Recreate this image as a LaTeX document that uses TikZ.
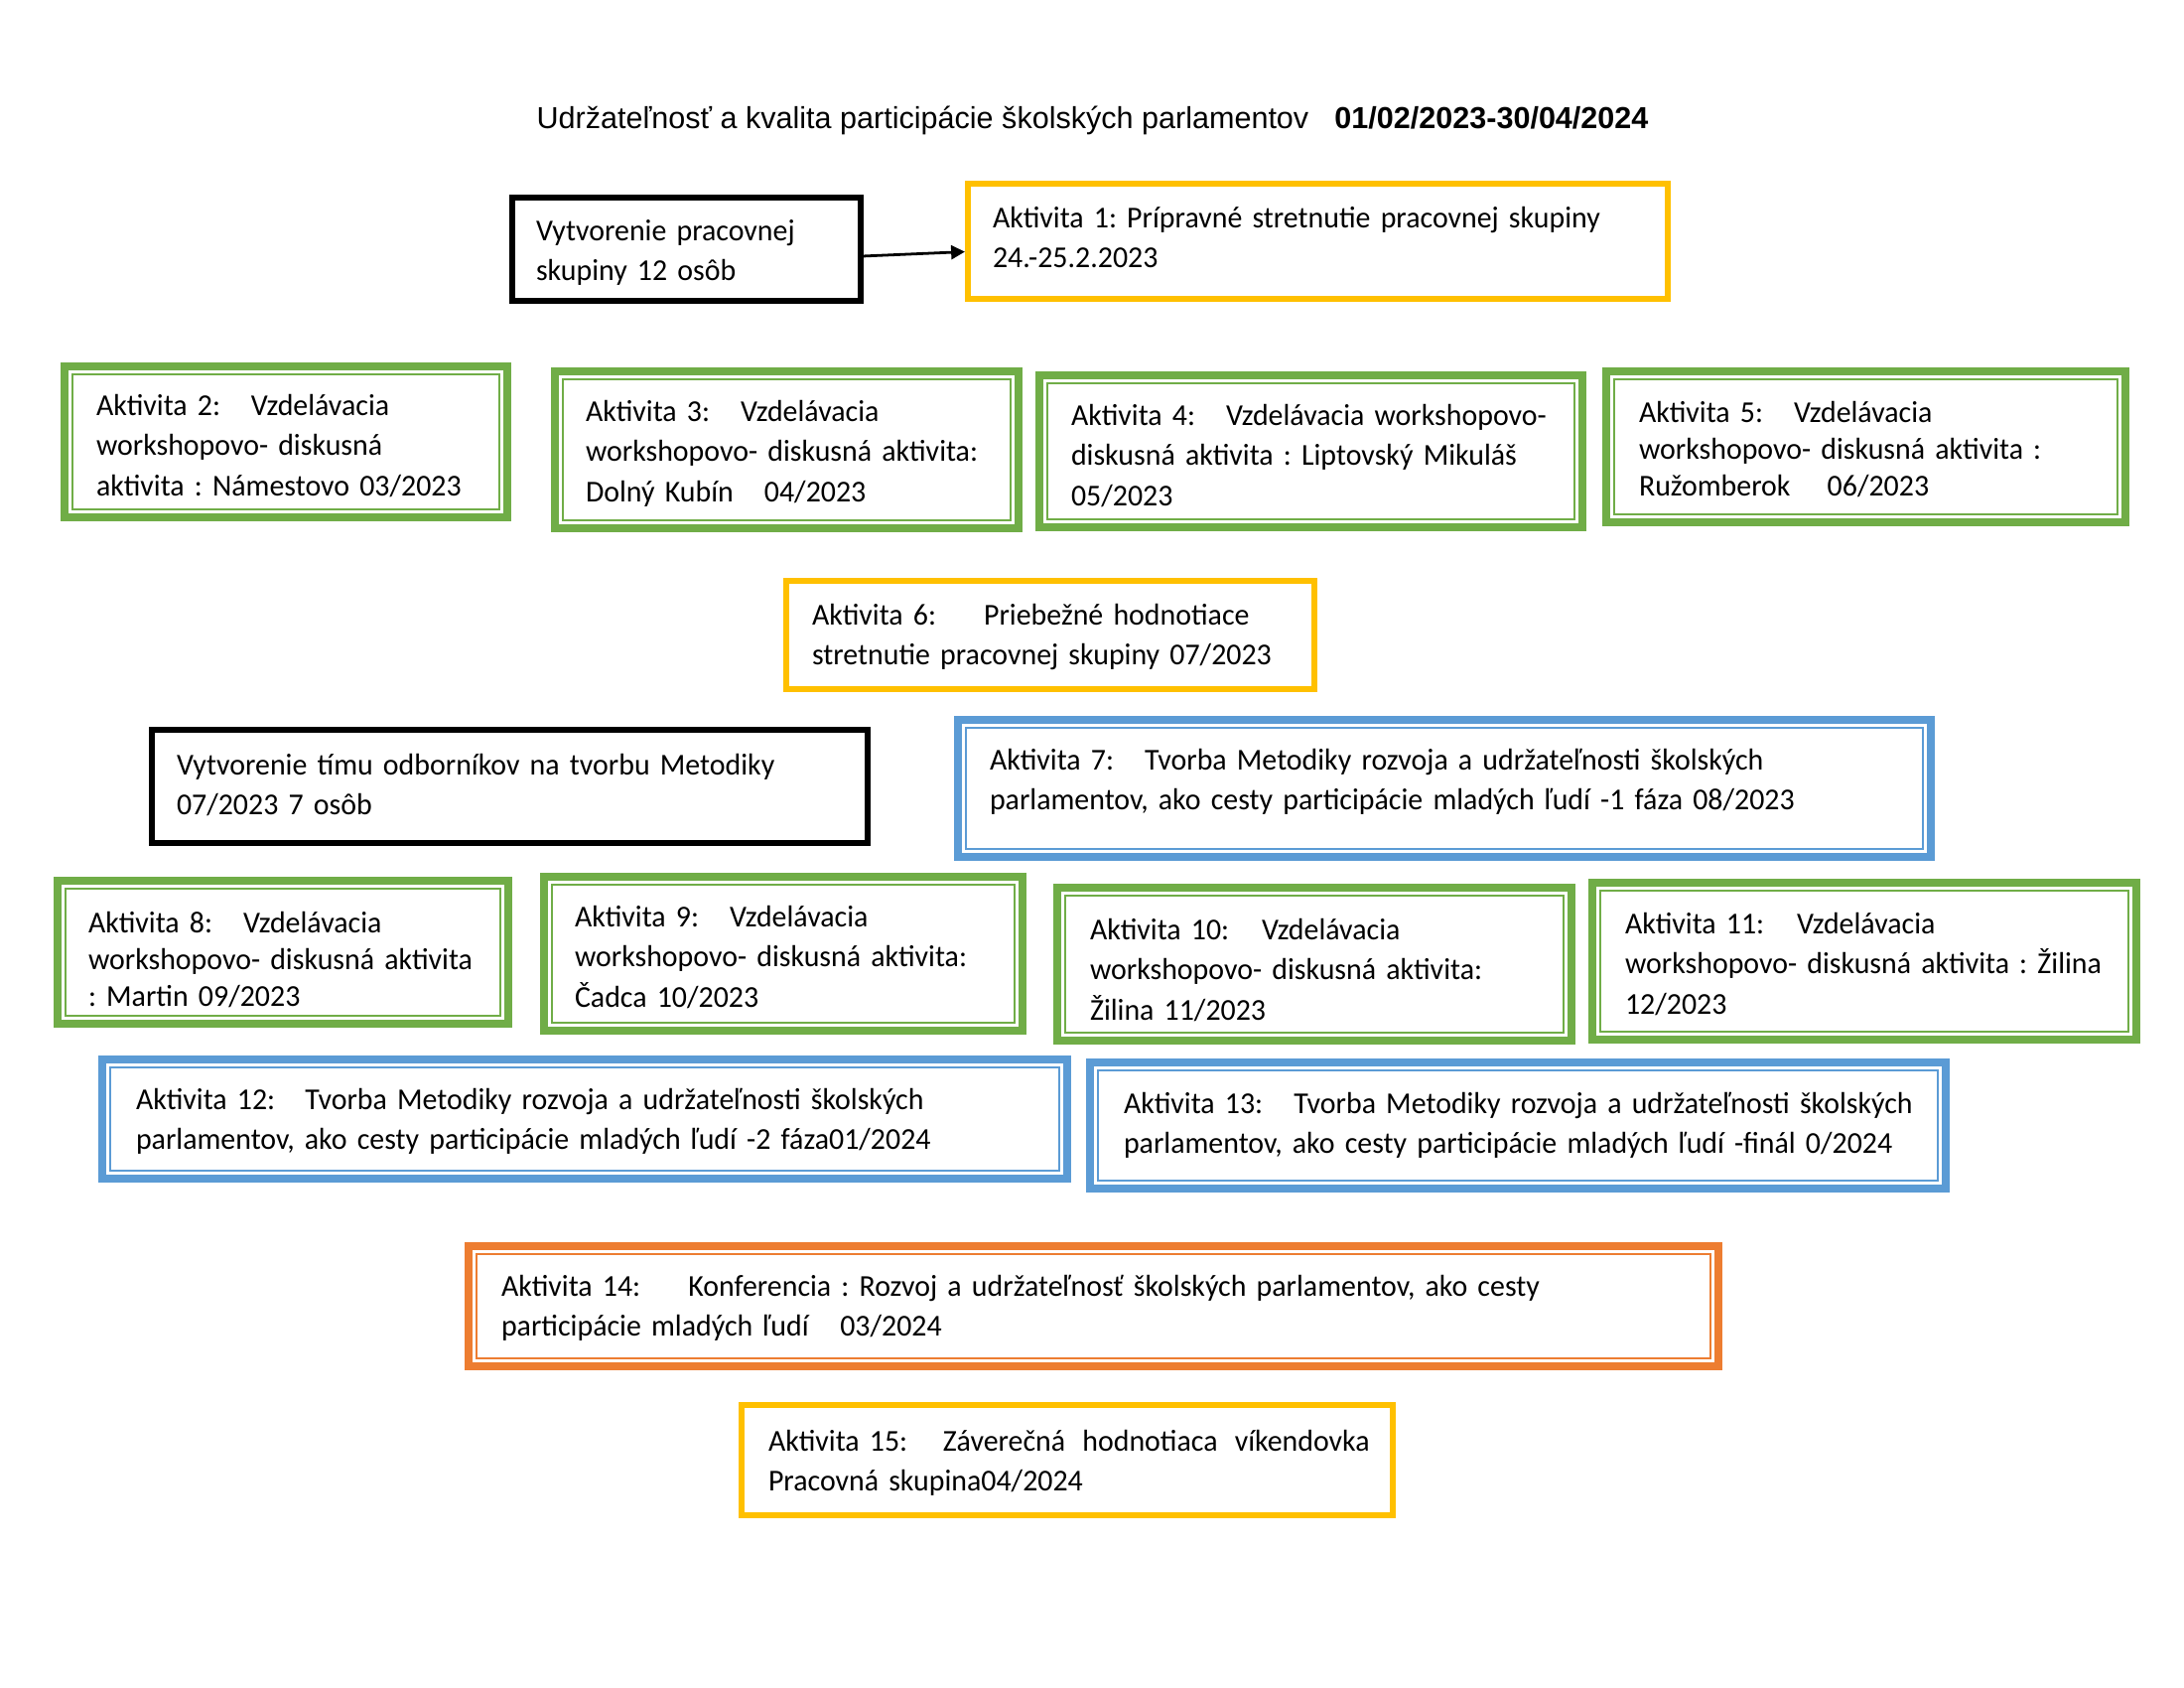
\documentclass[tikz,border=0pt]{standalone}
\usepackage{fontspec}
\setmainfont{Carlito}[FakeStretch=0.978]
\newfontfamily\arialf{Liberation Sans}
\usetikzlibrary{fit,arrows.meta}
\definecolor{ygold}{HTML}{FFC000}
\definecolor{ggreen}{HTML}{70AD47}
\definecolor{bblue}{HTML}{5B9BD5}
\definecolor{oorange}{HTML}{ED7D31}
\frenchspacing
\tikzset{
  boxbase/.style={inner sep=0pt, outer sep=0pt, draw=none},
  singleline/.style={line width=2.25pt},
  thickline/.style={line width=2.9pt},
  thinline/.style={line width=0.8pt},
  txt/.style={anchor=base west, inner sep=0pt, outer sep=0pt, text width=620pt, align=left,
              font=\frenchspacing\fontsize{11}{14.5}\selectfont},
  txttight/.style={txt, font=\frenchspacing\fontsize{11}{13.4}\selectfont},
  arrowline/.style={line width=1pt, -{Triangle[length=5pt,width=5pt]}},
  titletxt/.style={anchor=base west, inner sep=0pt, font=\arialf\fontsize{11}{13}\selectfont}
}
\newcommand\boxsingle[4]{%
  \node[boxbase, fit={#3 #4}] (#1) {};
  \draw[singleline, draw=#2] ([shift={(1.125pt,-1.125pt)}]#1.north west) rectangle ([shift={(-1.125pt,1.125pt)}]#1.south east);}
\newcommand\boxdouble[4]{%
  \node[boxbase, fit={#3 #4}] (#1) {};
  \draw[thickline, draw=#2] ([shift={(1.45pt,-1.45pt)}]#1.north west) rectangle ([shift={(-1.45pt,1.45pt)}]#1.south east);
  \draw[thinline, draw=#2] ([shift={(4.2pt,-4.2pt)}]#1.north west) rectangle ([shift={(-4.2pt,4.2pt)}]#1.south east);}
\begin{document}
\begin{tikzpicture}[x=0.36pt, y=-0.36pt]
\useasboundingbox (0,0) rectangle (2200,1700);
\fill[white] (0,0) rectangle (2200,1700);

\node[titletxt] (title) at (540,130) {\makebox[289.4pt][l]{Udržateľnosť a kvalita participácie školských parlamentov}\textbf{01/02/2023-30/04/2024}};

\boxsingle{boxA}{black}{(513,196)}{(870,306)}
\node[txt] (tA) at (540,242.5) {Vytvorenie pracovnej\\skupiny 12 osôb};

\boxsingle{box1}{ygold}{(972,182)}{(1683,304)}
\node[txt] (t1) at (1000,229.5) {Aktivita 1: Prípravné stretnutie pracovnej skupiny\\24.-25.2.2023};

\draw[arrowline] ([yshift=-2.5pt]boxA.east) -- ([yshift=-3.8pt]box1.west);

\boxdouble{box2}{ggreen}{(61,365)}{(515,525)}
\node[txt] (t2) at (97,418.5) {\makebox[56.1pt][l]{Aktivita 2:}Vzdelávacia\\workshopovo- diskusná\\aktivita : Námestovo 03/2023};

\boxdouble{box3}{ggreen}{(555,370)}{(1030,536)}
\node[txt] (t3) at (590,424.5) {\makebox[56.2pt][l]{Aktivita 3:}Vzdelávacia\\workshopovo- diskusná aktivita:\\\makebox[64.8pt][l]{Dolný Kubín}04/2023};

\boxdouble{box4}{ggreen}{(1043,374)}{(1598,535)}
\node[txt] (t4) at (1079,428.5) {\makebox[56.2pt][l]{Aktivita 4:}Vzdelávacia workshopovo-\\diskusná aktivita : Liptovský Mikuláš\\05/2023};

\boxdouble{box5}{ggreen}{(1614,370)}{(2145,530)}
\node[txttight] (t5) at (1651,425.5) {\makebox[56.2pt][l]{Aktivita 5:}Vzdelávacia\\workshopovo- diskusná aktivita :\\\makebox[68.3pt][l]{Ružomberok}06/2023};

\boxsingle{box6}{ygold}{(789,582)}{(1327,697)}
\node[txt] (t6) at (818,629.5) {\makebox[62.3pt][l]{Aktivita 6:}Priebežné hodnotiace\\stretnutie pracovnej skupiny 07/2023};

\boxsingle{boxB}{black}{(150,732)}{(877,852)}
\node[txt] (tB) at (178,780.5) {Vytvorenie tímu odborníkov na tvorbu Metodiky\\07/2023 7 osôb};

\boxdouble{box7}{bblue}{(961,721)}{(1949,867)}
\node[txt] (t7) at (997,775.5) {\makebox[56.2pt][l]{Aktivita 7:}Tvorba Metodiky rozvoja a udržateľnosti školských\\parlamentov, ako cesty participácie mladých ľudí -1 fáza 08/2023};

\boxdouble{box8}{ggreen}{(54,883)}{(516,1035)}
\node[txttight] (t8) at (89,939.5) {\makebox[56.2pt][l]{Aktivita 8:}Vzdelávacia\\workshopovo- diskusná aktivita\\: Martin 09/2023};

\boxdouble{box9}{ggreen}{(544,879)}{(1034,1042)}
\node[txt] (t9) at (579,933.5) {\makebox[56.2pt][l]{Aktivita 9:}Vzdelávacia\\workshopovo- diskusná aktivita:\\Čadca 10/2023};

\boxdouble{box10}{ggreen}{(1061,890)}{(1587,1052)}
\node[txt] (t10) at (1098,946.5) {\makebox[62.3pt][l]{Aktivita 10:}Vzdelávacia\\workshopovo- diskusná aktivita:\\Žilina 11/2023};

\boxdouble{box11}{ggreen}{(1600,885)}{(2156,1051)}
\node[txt] (t11) at (1637,940.5) {\makebox[62.3pt][l]{Aktivita 11:}Vzdelávacia\\workshopovo- diskusná aktivita : Žilina\\12/2023};

\boxdouble{box12}{bblue}{(99,1063)}{(1079,1191)}
\node[txt] (t12) at (137,1117.5) {\makebox[61.3pt][l]{Aktivita 12:}Tvorba Metodiky rozvoja a udržateľnosti školských\\parlamentov, ako cesty participácie mladých ľudí -2 fáza01/2024};

\boxdouble{box13}{bblue}{(1094,1066)}{(1964,1201)}
\node[txt] (t13) at (1132,1121.5) {\makebox[61.7pt][l]{Aktivita 13:}Tvorba Metodiky rozvoja a udržateľnosti školských\\parlamentov, ako cesty participácie mladých ľudí -finál 0/2024};

\boxdouble{box14}{oorange}{(468,1251)}{(1735,1380)}
\node[txt] (t14) at (505,1305.5) {\makebox[67.8pt][l]{Aktivita 14:}Konferencia : Rozvoj a udržateľnosť školských parlamentov, ako cesty\\\makebox[122.9pt][l]{participácie mladých ľudí}03/2024};

\boxsingle{box15}{ygold}{(744,1412)}{(1406,1529)}
\node[txt] (t15) at (774,1461.5) {\hbox to 218pt{\makebox[63.3pt][l]{Aktivita 15:}Záverečná\hfil\ hodnotiaca\hfil\ víkendovka}\\Pracovná skupina04/2024};
\end{tikzpicture}
\end{document}
